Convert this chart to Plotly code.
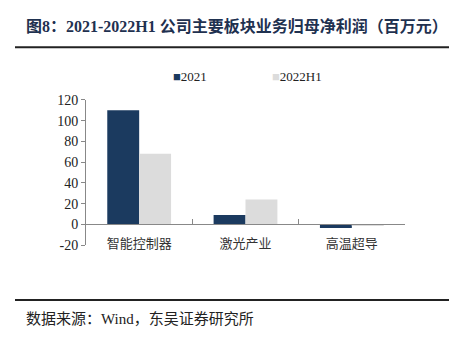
import plotly.graph_objects as go

categories = ["智能控制器", "激光产业", "高温超导"]
series_names = ["2021", "2022H1"]
series_colors = ["#1b3a5f", "#dcdcdc"]
values_2021 = [110, 9, -3.5]
values_2022h1 = [68, 24, -1]
y_ticks = [-20, 0, 20, 40, 60, 80, 100, 120]
y_ticktext = ["-20", "0", "20", "40", "60", "80", "100", "120"]

W, H = 452, 354
def px(x): return x / W
def py(y): return 1 - y / H

font_fam = "Liberation Serif, Times New Roman, Noto Sans CJK SC, serif"

fig = go.Figure()
fig.add_trace(go.Bar(x=categories, y=values_2021, name=series_names[0],
                     marker=dict(color=series_colors[0], line=dict(width=0))))
fig.add_trace(go.Bar(x=categories, y=values_2022h1, name=series_names[1],
                     marker=dict(color=series_colors[1], line=dict(width=0))))

fig.update_layout(
    width=W, height=H, margin=dict(l=0, r=0, t=0, b=0),
    paper_bgcolor="white", plot_bgcolor="white",
    barmode="group", bargap=0.4, bargroupgap=0,
    font=dict(family=font_fam, size=12, color="#222"),
    showlegend=False,
    xaxis=dict(domain=[px(86), px(405)], anchor="free", position=py(227),
               showline=True, linecolor="#888", linewidth=1,
               ticks="inside", tickson="boundaries", ticklen=5, tickcolor="#888",
               ticklabelstandoff=7,
               tickfont=dict(size=13, family="Noto Sans CJK SC", color="#333"),
               showgrid=False, zeroline=False),
    yaxis=dict(domain=[py(248.7), py(97)], range=[-20, 120],
               tickvals=y_ticks, ticktext=y_ticktext,
               showline=True, linecolor="#888", linewidth=1,
               ticks="outside", ticklen=4, tickcolor="#888",
               tickfont=dict(size=14, family=font_fam, color="#222"),
               showgrid=False, zeroline=False),
)

# manual legend
legend_x = [171, 270]
for name, color, lx in zip(series_names, series_colors, legend_x):
    fig.add_annotation(x=px(lx), y=py(73), xref="paper", yref="paper",
                       xanchor="left", yanchor="middle", showarrow=False,
                       text=f"<span style='color:{color}'>■</span>{name}",
                       font=dict(size=13, family=font_fam, color="#222"))

fig.add_annotation(x=px(24), y=py(20), xref="paper", yref="paper",
                   xanchor="left", yanchor="middle", showarrow=False,
                   text="<b>图8：2021-2022H1 公司主要板块业务归母净利润（百万元）</b>",
                   font=dict(size=16, family=font_fam, color="#1f3150"))
fig.add_annotation(x=px(24), y=py(326), xref="paper", yref="paper",
                   xanchor="left", yanchor="middle", showarrow=False,
                   text="数据来源：Wind，东吴证券研究所",
                   font=dict(size=15, family=font_fam, color="#222"))
fig.add_shape(type="line", xref="paper", yref="paper",
              x0=px(15), x1=px(449), y0=py(42), y1=py(42),
              line=dict(color="#222", width=2))
fig.add_shape(type="line", xref="paper", yref="paper",
              x0=px(15), x1=px(449), y0=py(306), y1=py(306),
              line=dict(color="#222", width=2))

fig.write_html("out.html")
